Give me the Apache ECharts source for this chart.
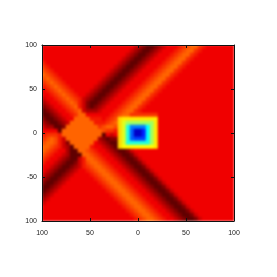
<!DOCTYPE html>
<html><head><meta charset="utf-8">
<style>html,body{margin:0;padding:0;background:#fff}
#wrap{position:absolute;left:0;top:0;width:277px;height:277px;clip-path:inset(45px 43px 56px 42px)}
#h{position:absolute;left:0;top:0;width:277px;height:277px;filter:blur(0.8px)}
#a{position:absolute;left:0;top:0;width:277px;height:277px;filter:blur(0.35px)}</style>
<script src="https://cdn.jsdelivr.net/npm/echarts@6/dist/echarts.min.js"></script>
</head><body><div id="wrap"><div id="h"></div></div><div id="a"></div>
<script>
const xTickValues=[-100,-50,0,50,100];
const xTickLabels=['100','50','0','50','100'];
const yTickLabels=['100','50','0','-50','100'];
const levelColors=['#000090','#0000ff','#0080ff','#00ffff','#80ff80','#ffff00','#ffb000','#ff6400','#f00000','#600000'];
const row00=[32,32,32,32,32,32,32,32,32,32,32,32,32,32,32,32,32,32,32,32,32,32,32,33,34,35,36,36,35,34,33,32,32,32,31,30,29,28,28,30,31,32,32,32,32,32,32,32];
const row01=[32,32,32,32,32,32,32,32,32,32,32,32,32,32,32,32,32,32,32,32,32,32,33,34,35,36,36,35,34,33,32,32,32,31,30,29,28,28,30,31,32,32,32,32,32,32,32,32];
const row02=[32,32,32,32,32,32,32,32,32,32,32,32,32,32,32,32,32,32,32,32,32,33,34,35,36,36,35,34,33,32,32,32,31,30,29,28,28,30,31,32,32,32,32,32,32,32,32,32];
const row03=[32,32,32,32,32,32,32,32,32,32,32,32,32,32,32,32,32,32,32,32,33,34,35,36,36,35,34,33,32,32,32,31,30,29,28,28,30,31,32,32,32,32,32,32,32,32,32,32];
const row04=[31,32,32,32,32,32,32,32,32,32,32,32,32,32,32,32,32,32,32,33,34,35,36,36,35,34,33,32,32,32,31,30,29,28,28,30,31,32,32,32,32,32,32,32,32,32,32,32];
const row05=[30,31,32,32,32,32,32,32,32,32,32,32,32,32,32,32,32,32,33,34,35,36,36,35,34,33,32,32,32,31,30,29,28,28,30,31,32,32,32,32,32,32,32,32,32,32,32,32];
const row06=[29,30,31,32,32,32,32,32,32,32,32,32,32,32,32,32,32,33,34,35,36,36,35,34,33,32,32,32,31,30,29,28,28,30,31,32,32,32,32,32,32,32,32,32,32,32,32,32];
const row07=[28,29,30,31,32,32,32,32,32,32,32,32,32,32,32,32,33,34,35,36,36,35,34,33,32,32,32,31,30,29,28,28,30,31,32,32,32,32,32,32,32,32,32,32,32,32,32,32];
const row08=[29,28,29,30,31,32,32,32,32,32,32,32,32,32,32,33,34,35,36,36,35,34,33,32,32,32,31,30,29,28,28,30,31,32,32,32,32,32,32,32,32,32,32,32,32,32,32,32];
const row09=[30,29,28,29,30,31,32,32,32,32,32,32,32,32,33,34,35,36,36,35,34,33,32,32,32,31,30,29,28,28,30,31,32,32,32,32,32,32,32,32,32,32,32,32,32,32,32,32];
const row10=[31,30,29,28,29,30,31,32,32,32,32,32,32,33,34,35,36,36,35,34,33,32,32,32,31,30,29,28,28,30,31,32,32,32,32,32,32,32,32,32,32,32,32,32,32,32,32,32];
const row11=[32,31,30,29,28,29,30,31,32,32,32,32,33,34,35,36,36,35,34,33,32,32,32,31,30,29,28,28,30,31,32,32,32,32,32,32,32,32,32,32,32,32,32,32,32,32,32,32];
const row12=[32,32,31,30,29,28,29,30,31,32,32,33,34,35,36,36,35,34,33,32,32,32,31,30,29,28,28,30,31,32,32,32,32,32,32,32,32,32,32,32,32,32,32,32,32,32,32,32];
const row13=[33,32,32,31,30,29,28,29,30,31,33,34,35,36,36,35,34,33,32,32,32,31,30,29,28,28,30,31,32,32,32,32,32,32,32,32,32,32,32,32,32,32,32,32,32,32,32,32];
const row14=[34,33,32,32,31,30,29,28,29,31,33,35,36,36,35,34,33,32,32,32,31,30,29,28,28,30,31,32,32,32,32,32,32,32,32,32,32,32,32,32,32,32,32,32,32,32,32,32];
const row15=[35,34,33,32,32,31,30,29,28,31,33,35,36,35,34,33,32,32,32,31,30,29,28,28,30,31,32,32,32,32,32,32,32,32,32,32,32,32,32,32,32,32,32,32,32,32,32,32];
const row16=[36,35,34,33,32,32,31,30,29,28,33,34,34,34,33,32,32,32,31,30,29,28,28,30,31,32,32,32,32,32,32,32,32,32,32,32,32,32,32,32,32,32,32,32,32,32,32,32];
const row17=[36,36,35,34,33,32,32,31,30,28,28,32,32,32,32,32,32,31,30,29,28,28,30,30,30,30,30,30,30,32,32,32,32,32,32,32,32,32,32,32,32,32,32,32,32,32,32,32];
const row18=[35,36,36,35,34,33,32,32,28,28,28,28,31,31,31,32,31,30,29,22,21,21,21,21,21,21,21,21,21,32,32,32,32,32,32,32,32,32,32,32,32,32,32,32,32,32,32,32];
const row19=[34,35,36,36,35,34,33,28,28,28,28,28,28,31,31,31,30,29,28,22,19,17,17,17,17,17,17,17,21,32,32,32,32,32,32,32,32,32,32,32,32,32,32,32,32,32,32,32];
const row20=[33,34,34,36,36,35,28,28,28,28,28,28,28,28,30,29,28,28,29,22,19,13,8,8,8,8,12,17,21,32,32,32,32,32,32,32,32,32,32,32,32,32,32,32,32,32,32,32];
const row21=[32,32,32,32,36,28,28,28,28,28,28,28,28,28,28,29,30,30,31,22,19,13,7,2,2,5,12,17,21,32,32,32,32,32,32,32,32,32,32,32,32,32,32,32,32,32,32,32];
const row22=[31,30,30,30,31,28,28,28,28,28,28,28,28,28,28,36,32,33,32,22,19,13,7,2,2,5,12,17,21,32,32,32,32,32,32,32,32,32,32,32,32,32,32,32,32,32,32,32];
const row23=[30,29,28,29,31,33,28,28,28,28,28,28,28,28,34,35,36,35,35,22,19,13,7,6,6,6,12,17,21,32,32,32,32,32,32,32,32,32,32,32,32,32,32,32,32,32,32,32];
const row24=[29,28,28,29,31,33,35,28,28,28,28,28,28,32,33,34,35,36,36,22,19,13,13,13,13,13,13,17,21,32,32,32,32,32,32,32,32,32,32,32,32,32,32,32,32,32,32,32];
const row25=[28,28,29,30,31,33,34,36,28,28,28,28,31,32,32,33,34,35,36,22,20,20,20,20,20,20,20,20,21,32,32,32,32,32,32,32,32,32,32,32,32,32,32,32,32,32,32,32];
const row26=[28,29,30,31,32,32,34,36,36,28,28,29,30,31,32,32,33,34,35,36,36,35,33,32,32,32,32,32,32,32,32,32,32,32,32,32,32,32,32,32,32,32,32,32,32,32,32,32];
const row27=[29,30,31,32,32,33,34,36,36,36,28,28,29,30,31,32,32,33,34,35,36,36,35,33,32,32,32,32,32,32,32,32,32,32,32,32,32,32,32,32,32,32,32,32,32,32,32,32];
const row28=[30,31,32,32,33,34,35,36,36,33,31,28,28,29,30,31,32,32,33,34,35,36,36,35,33,32,32,32,32,32,32,32,32,32,32,32,32,32,32,32,32,32,32,32,32,32,32,32];
const row29=[31,32,32,33,34,35,36,36,35,33,31,29,28,28,29,30,31,32,32,33,34,35,36,36,35,33,32,32,32,32,32,32,32,32,32,32,32,32,32,32,32,32,32,32,32,32,32,32];
const row30=[32,32,33,34,35,36,36,35,34,33,31,30,29,28,28,29,30,31,32,32,33,34,35,36,36,35,33,32,32,32,32,32,32,32,32,32,32,32,32,32,32,32,32,32,32,32,32,32];
const row31=[32,33,34,35,36,36,35,34,33,32,32,31,30,29,28,28,29,30,31,32,32,33,34,35,36,36,35,33,32,32,32,32,32,32,32,32,32,32,32,32,32,32,32,32,32,32,32,32];
const row32=[33,34,35,36,36,35,34,33,32,32,32,32,31,30,29,28,28,29,30,31,32,32,33,34,35,36,36,35,33,32,32,32,32,32,32,32,32,32,32,32,32,32,32,32,32,32,32,32];
const row33=[34,35,36,36,35,34,33,32,32,32,32,32,32,31,30,29,28,28,29,30,31,32,32,33,34,35,36,36,35,33,32,32,32,32,32,32,32,32,32,32,32,32,32,32,32,32,32,32];
const row34=[35,36,36,35,34,33,32,32,32,32,32,32,32,32,31,30,29,28,28,29,30,31,32,32,33,34,35,36,36,35,33,32,32,32,32,32,32,32,32,32,32,32,32,32,32,32,32,32];
const row35=[36,36,35,34,33,32,32,32,32,32,32,32,32,32,32,31,30,29,28,28,29,30,31,32,32,33,34,35,36,36,35,33,32,32,32,32,32,32,32,32,32,32,32,32,32,32,32,32];
const row36=[36,35,34,33,32,32,32,32,32,32,32,32,32,32,32,32,31,30,29,28,28,29,30,31,32,32,33,34,35,36,36,35,33,32,32,32,32,32,32,32,32,32,32,32,32,32,32,32];
const row37=[35,34,33,32,32,32,32,32,32,32,32,32,32,32,32,32,32,31,30,29,28,28,29,30,31,32,32,33,34,35,36,36,35,33,32,32,32,32,32,32,32,32,32,32,32,32,32,32];
const row38=[34,33,32,32,32,32,32,32,32,32,32,32,32,32,32,32,32,32,31,30,29,28,28,29,30,31,32,32,33,34,35,36,36,35,33,32,32,32,32,32,32,32,32,32,32,32,32,32];
const row39=[33,32,32,32,32,32,32,32,32,32,32,32,32,32,32,32,32,32,32,31,30,29,28,28,29,30,31,32,32,33,34,35,36,36,35,33,32,32,32,32,32,32,32,32,32,32,32,32];
const row40=[32,32,32,32,32,32,32,32,32,32,32,32,32,32,32,32,32,32,32,32,31,30,29,28,28,29,30,31,32,32,33,34,35,36,36,35,33,32,32,32,32,32,32,32,32,32,32,32];
const row41=[32,32,32,32,32,32,32,32,32,32,32,32,32,32,32,32,32,32,32,32,32,31,30,29,28,28,29,30,31,32,32,33,34,35,36,36,35,33,32,32,32,32,32,32,32,32,32,32];
const row42=[32,32,32,32,32,32,32,32,32,32,32,32,32,32,32,32,32,32,32,32,32,32,31,30,29,28,28,29,30,31,32,32,33,34,35,36,36,35,33,32,32,32,32,32,32,32,32,32];
const row43=[32,32,32,32,32,32,32,32,32,32,32,32,32,32,32,32,32,32,32,32,32,32,32,31,30,29,28,28,29,30,31,32,32,33,34,35,36,36,35,33,32,32,32,32,32,32,32,32];
const rows=[row00,row01,row02,row03,row04,row05,row06,row07,row08,row09,row10,row11,row12,row13,row14,row15,row16,row17,row18,row19,row20,row21,row22,row23,row24,row25,row26,row27,row28,row29,row30,row31,row32,row33,row34,row35,row36,row37,row38,row39,row40,row41,row42,row43];

const cells=[];
rows.forEach((row,r)=>row.forEach((v,c)=>{cells.push([c,r,v]);}));
const gridBox={left:42,top:45,width:192,height:176,containLabel:false};
const lineStyle={color:'#111',width:1};
const labelStyle={fontFamily:'Liberation Sans',fontSize:7,color:'#222'};
const colIds=row00.map((_,i)=>i), rowIds=rows.map((_,i)=>i);

const heat=echarts.init(document.getElementById('h'),null,{renderer:'canvas'});
heat.setOption({
  animation:false,
  grid:gridBox,
  xAxis:{type:'category',data:colIds,show:false,boundaryGap:true},
  yAxis:{type:'category',data:rowIds,inverse:true,show:false,boundaryGap:true},
  visualMap:{show:false,type:'continuous',min:0,max:36,dimension:2,inRange:{color:levelColors},seriesIndex:0},
  series:[{type:'heatmap',data:cells,progressive:0,silent:true,itemStyle:{borderWidth:0},emphasis:{disabled:true}}]
});

const frameAxis=(position)=>({type:'value',position,min:-100,max:100,interval:50,
  axisLine:{show:true,onZero:false,lineStyle},splitLine:{show:false},
  axisTick:{show:true,inside:true,length:3,lineStyle},axisLabel:{show:false}});
const axes=echarts.init(document.getElementById('a'),null,{renderer:'canvas'});
axes.setOption({
  animation:false,
  backgroundColor:'transparent',
  grid:gridBox,
  xAxis:[
    frameAxis('top'),
    {...frameAxis('bottom'),axisLabel:{...labelStyle,margin:9,formatter:(v)=>{const i=xTickValues.indexOf(v);return i<0?'':xTickLabels[i];}}}
  ],
  yAxis:[
    frameAxis('right'),
    {...frameAxis('left'),axisLabel:{...labelStyle,margin:5,formatter:(v)=>{const i=xTickValues.indexOf(v);return i<0?'':yTickLabels[4-i];}}}
  ]
});
</script></body></html>
